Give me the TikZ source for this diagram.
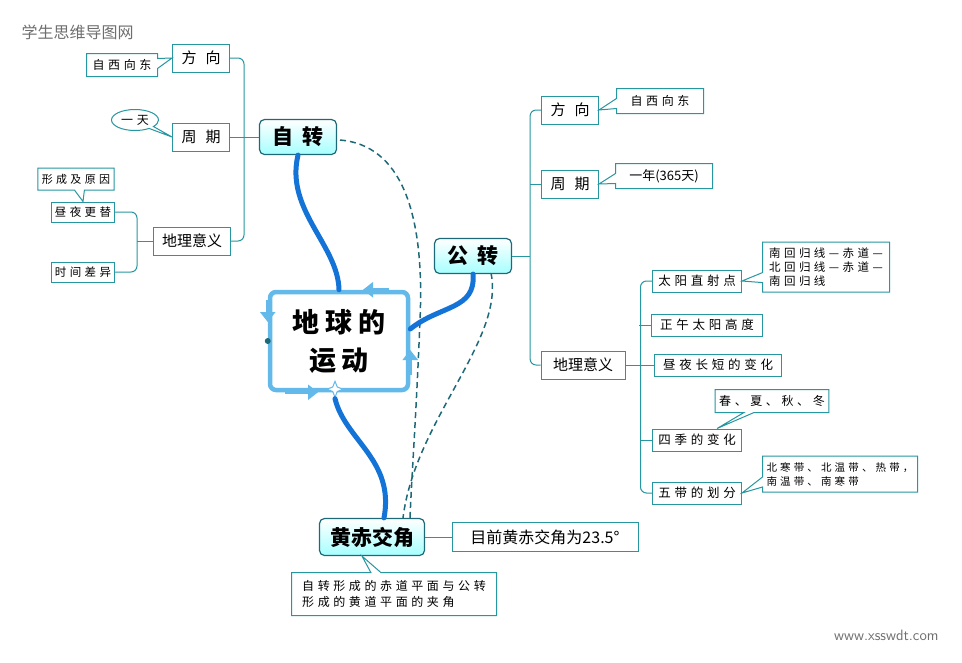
\documentclass[tikz,border=0pt]{standalone}
\usepackage{fontspec}
\setmainfont{Noto Sans CJK SC}
\newfontfamily\hand{Noto Sans CJK SC}[LetterSpace=30]
\usetikzlibrary{shapes.callouts,shapes.geometric,calc,arrows.meta}
\definecolor{boxline}{RGB}{38,150,160}
\definecolor{topicline}{RGB}{30,105,120}
\definecolor{curveblue}{RGB}{20,115,215}
\definecolor{framecol}{RGB}{100,185,235}
\definecolor{marktext}{RGB}{110,110,110}
\tikzset{>=stealth,
  topic/.style={draw=topicline, line width=1.2pt, rounded corners=5pt, top color=white, bottom color=cyan!35,
    font=\bfseries\fontsize{21}{24}\selectfont, minimum width=77, minimum height=35, inner sep=2pt},
  sub/.style={draw=boxline, line width=1pt, fill=white, font=\fontsize{15}{17}\selectfont, minimum height=28, inner sep=3pt},
  leaf/.style={draw=boxline, line width=1pt, fill=white, font=\hand\fontsize{12.5}{14}\selectfont, minimum height=22, inner sep=3pt},
  note/.style={rectangle callout, draw=boxline, line width=1pt, fill=white, font=\hand\fontsize{12}{14}\selectfont,
    inner sep=4pt, callout pointer width=10pt},
  branch/.style={draw=boxline, line width=1pt, rounded corners=6pt},
  link/.style={draw=topicline, line width=1.5pt, dash pattern=on 6pt off 4pt},
  stem/.style={draw=curveblue, line width=5pt, line cap=round},
  framearrow/.style={draw=framecol, line width=4pt, -{Triangle[width=15pt,length=10pt]}},
}
\begin{document}
\begin{tikzpicture}[x=1pt,y=-1pt]
\useasboundingbox (0,0) rectangle (962,662);
% watermarks
\node[text=marktext, font=\fontsize{16}{18}\selectfont, anchor=west] (site) at (18,32) {学生思维导图网};
\node[text=marktext, font=\sffamily\fontsize{15}{17}\selectfont, anchor=east] (url) at (942,635) {www.xsswdt.com};

% links behind the boxes
\draw[link] (340,140) .. controls (400,145) and (425,210) .. (420,320)
  .. controls (416,420) and (412,470) .. (410,518);
\draw[link] (491,273) .. controls (505,340) and (415,420) .. (403,518);

% centre
\node[draw=framecol, line width=4.5pt, rounded corners=6pt, fill=white, minimum width=138, minimum height=98,
  align=center, font=\bfseries\fontsize{27}{38}\selectfont] (earth) at (339,341) {地\hspace{6pt}球\hspace{6pt}的\\运\hspace{6pt}动};
\draw[framearrow] ($(earth.north)+(50,0)$) -- ($(earth.north)+(24,0)$);
\draw[framearrow] ($(earth.west)+(0,-41)$) -- ($(earth.west)+(0,-19)$);
\draw[framearrow] ($(earth.south)+(-54,0)$) -- ($(earth.south)+(-21,0)$);
\draw[framearrow] ($(earth.east)+(0,34)$) -- ($(earth.east)+(0,9)$);
\fill[topicline] (earth.west) circle (3);
\node[star, star points=4, star point ratio=2.5, draw=framecol, fill=white, line width=1pt, minimum size=16, inner sep=0pt] (spark) at ($(earth.south)+(-4,-3)$) {};

% topics
\node[topic] (zizhuan) at (298,137) {自\hspace{.4em}转};
\node[topic] (gongzhuan) at (473,256) {公\hspace{.4em}转};
\node[topic, minimum width=105, minimum height=37] (huangchi) at (372,537) {黄赤交角};

% stems
\draw[stem] (zizhuan.south) .. controls (285,210) and (338,245) .. (earth.north);
\draw[stem] (gongzhuan.south) .. controls (476,310) and (440,305) .. ($(earth.east)+(0,-12)$);
\draw[stem] (spark.south) .. controls (345,440) and (395,460) .. ($(huangchi.north)+(12,0)$);

% rotation branch
\node[sub, minimum width=57] (zfx) at (201,58) {方\hspace{.6em}向};
\node[sub, minimum width=57] (zzq) at (201,137) {周\hspace{.6em}期};
\node[sub, minimum width=77] (zdl) at (192,241) {地理意义};
\draw[branch] (zfx.east) -| ($(zdl.east)+(13,0)$) -- (zdl.east);
\draw[branch] (zizhuan.west) -- (zzq.east);
\node[note, minimum width=71, minimum height=23, callout absolute pointer={(zfx.west)}] (zfxnote) at (122,65) {自西向东};
\node[ellipse callout, draw=boxline, line width=1pt, fill=white, font=\hand\fontsize{12}{14}\selectfont,
  minimum width=47, minimum height=21, inner sep=1pt, callout absolute pointer={(zzq.west)}] (zzqnote) at (135,120) {一天};
\node[leaf, minimum width=61, minimum height=20, font=\hand\fontsize{11.5}{14}\selectfont] (zdiurnal) at (83,212) {昼夜更替};
\node[leaf, minimum width=61, minimum height=20, font=\hand\fontsize{11.5}{14}\selectfont] (zdiff) at (83,272) {时间差异};
\draw[branch] (zdiurnal.east) -| ($(zdl.west)+(-16,0)$) |- (zdiff.east);
\draw[branch] (zdl.west) -- ++(-16,0);
\node[note, minimum width=72, minimum height=22, font=\hand\fontsize{11}{14}\selectfont,
  callout absolute pointer={(zdiurnal.north)}] (reason) at (76,179) {形成及原因};

% revolution branch
\node[sub, minimum width=57] (gfx) at (570,110) {方\hspace{.6em}向};
\node[sub, minimum width=57] (gzq) at (570,184) {周\hspace{.6em}期};
\node[sub, minimum width=84] (gdl) at (583,365) {地理意义};
\draw[branch] (gfx.west) -| ($(gongzhuan.east)+(18,0)$) |- (gdl.west);
\draw[branch] (gongzhuan.east) -- ++(18,0);
\draw[branch] (gzq.west) -- ++(-11,0);
\node[note, minimum width=87, minimum height=25, callout absolute pointer={(gfx.east)}] (gfxnote) at (660,101) {自西向东};
\node[note, minimum width=97, minimum height=25, font=\fontsize{13}{15}\selectfont,
  callout absolute pointer={(gzq.east)}] (gzqnote) at (664,176) {一年(365天)};

\node[leaf, minimum width=89] (sun) at (697,281) {太阳直射点};
\node[leaf, minimum width=111] (noon) at (707,325) {正午太阳高度};
\node[leaf, minimum width=127] (daylen) at (718,365) {昼夜长短的变化};
\node[leaf, minimum width=89] (season) at (697,440) {四季的变化};
\node[leaf, minimum width=89] (zones) at (697,493) {五带的划分};
\draw[branch] (sun.west) -| ($(gdl.east)+(15,0)$) |- (zones.west);
\draw[branch] (gdl.east) -- (daylen.west);
\draw[branch] (noon.west) -- ++(-12,0);
\draw[branch] (season.west) -- ++(-12,0);
\node[note, align=left, minimum width=127, minimum height=50, font=\hand\fontsize{11.5}{14}\selectfont,
  callout absolute pointer={(sun.east)}] (sunnote) at (826,267) {南回归线—赤道—\\北回归线—赤道—\\南回归线};
\node[note, minimum width=111, minimum height=23, callout absolute pointer={($(season.north)+(20,0)$)}] (seasonnote) at (772,401) {春、夏、秋、冬};
\node[note, align=left, minimum width=155, minimum height=36, font=\hand\fontsize{10.5}{14}\selectfont,
  callout absolute pointer={(zones.east)}] (zonesnote) at (840,474) {北寒带、北温带、热带，\\南温带、南寒带};

% obliquity
\node[sub, minimum width=186, minimum height=29, font=\fontsize{16}{18}\selectfont] (angle) at (545,537) {目前黄赤交角为23.5°};
\draw[branch] (huangchi.east) -- (angle.west);
\node[note, align=left, minimum width=205, minimum height=43, font=\hand\fontsize{12}{16}\selectfont,
  callout absolute pointer={($(huangchi.south)+(-10,0)$)}] (define) at (394,594) {自转形成的赤道平面与公转\\形成的黄道平面的夹角};
\end{tikzpicture}
\end{document}
